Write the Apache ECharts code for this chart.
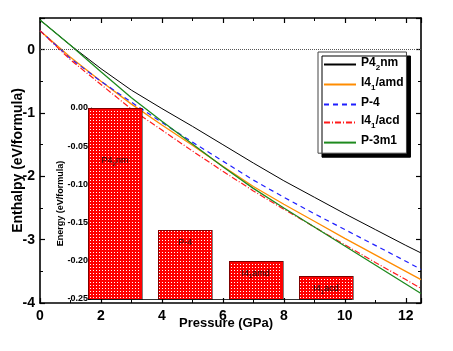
<!DOCTYPE html>
<html><head><meta charset="utf-8">
<script src="https://cdn.jsdelivr.net/npm/echarts@6/dist/echarts.min.js"></script>
<style>html,body{margin:0;padding:0;background:#fff}#c{width:453px;height:351px}</style>
</head><body><div id="c"></div>
<script>
// ---- data ----
const pressure = [0,1,2,3,4,5,6,7,8,9,10,11,12,12.5];
const P42nm  = [0.47,0.07,-0.30,-0.64,-0.93,-1.21,-1.50,-1.79,-2.07,-2.33,-2.59,-2.84,-3.09,-3.21];
const I41amd = [0.30,-0.12,-0.50,-0.86,-1.19,-1.51,-1.84,-2.16,-2.44,-2.71,-2.98,-3.24,-3.50,-3.63];
const P4     = [0.30,-0.14,-0.50,-0.83,-1.15,-1.46,-1.76,-2.06,-2.33,-2.59,-2.84,-3.09,-3.34,-3.47];
const I41acd = [0.30,-0.16,-0.55,-0.94,-1.27,-1.60,-1.92,-2.23,-2.52,-2.80,-3.08,-3.36,-3.63,-3.77];
const P3m1   = [0.47,0.07,-0.35,-0.76,-1.13,-1.49,-1.85,-2.19,-2.50,-2.80,-3.10,-3.40,-3.70,-3.85];
const seriesNames = ['P4_2nm','I4_1/amd','P-4','I4_1/acd','P-3m1'];
const insetCategories = ['P4_2nm','P-4','I4_1amd','I4_1acd'];
const insetEnergy = [0.00,-0.16,-0.20,-0.22];

// ---- helpers ----
const FONT = '"Liberation Sans", Arial, sans-serif';
function richName(n){ return '{a|' + n.replace(/_(\d)/, '}{s|$1}{a|') + '}'; }

const colors = ['#000000','#ff8c00','#1f1fff','#ff1a1a','#1e8a1e'];
const types = ['solid','solid',[5,4],[6,2,1,2],'solid'];
const widths = [1,1.3,1.2,1.2,1.3];
const allY = [P42nm, I41amd, P4, I41acd, P3m1];

const lineSeries = seriesNames.map((n,k)=>({
  name: n, type: 'line', xAxisIndex: 0, yAxisIndex: 0, symbol: 'none', showSymbol: false, z: 3,
  silent: true,
  data: pressure.map((p,i)=>[p, allY[k][i]]),
  lineStyle: {color: colors[k], width: widths[k], type: types[k]},
  itemStyle: {color: colors[k]},
  markLine: k === 0 ? {silent: true, symbol: 'none', label: {show:false},
    lineStyle: {type: 'dotted', color: '#555', width: 1}, data: [{yAxis: 0}]} : undefined
}));

const chart = echarts.init(document.getElementById('c'));
const axisLbl = {fontFamily: FONT, fontWeight: 'bold', fontSize: 14, color: '#000'};
chart.setOption({
  animation: false,
  backgroundColor: '#fff',
  tooltip: {show: false},
  grid: [
    {left: 40, top: 18, right: 32, bottom: 48, containLabel: false, outerBoundsMode: 'none'},
    {left: 91, top: 108, right: 101, bottom: 52, containLabel: false, outerBoundsMode: 'none'}
  ],
  xAxis: [
    {type: 'value', gridIndex: 0, min: 0, max: 12.5, interval: 2, position: 'bottom',
     name: 'Pressure (GPa)', nameLocation: 'middle', nameGap: 14, nameMoveOverlap: false,
     nameTextStyle: {fontFamily: FONT, fontWeight: 'bold', fontSize: 13, color: '#000', padding: [0, 9, 0, 0]},
     axisLine: {onZero: false, lineStyle: {color: '#000', width: 1.6}},
     axisTick: {inside: true, length: 5, lineStyle: {color: '#000', width: 1.2}},
     minorTick: {show: true, splitNumber: 2, length: 3, lineStyle: {color: '#000'}},
     axisLabel: Object.assign({margin: 6, showMaxLabel: false}, axisLbl),
     splitLine: {show: false}},
    {type: 'value', gridIndex: 0, min: 0, max: 12.5, interval: 2, position: 'top',
     axisLine: {onZero: false, lineStyle: {color: '#000', width: 1.6}},
     axisTick: {inside: true, length: 5, lineStyle: {color: '#000', width: 1.2}},
     minorTick: {show: true, splitNumber: 2, length: 3, lineStyle: {color: '#000'}},
     axisLabel: {show: false}, splitLine: {show: false}},
    {type: 'value', gridIndex: 1, min: -0.341, max: 3.37, show: true,
     axisLine: {onZero: false, lineStyle: {color: '#333', width: 1}},
     axisTick: {show: false}, axisLabel: {show: false}, splitLine: {show: false}}
  ],
  yAxis: [
    {type: 'value', gridIndex: 0, min: -4, max: 0.5, interval: 1, position: 'left',
     name: 'Enthalpy (eV/formula)', nameLocation: 'middle', nameGap: 15, nameMoveOverlap: false,
     nameTextStyle: {fontFamily: FONT, fontWeight: 'bold', fontSize: 14, color: '#000'},
     axisLine: {onZero: false, lineStyle: {color: '#000', width: 1.6}},
     axisTick: {inside: true, length: 5, lineStyle: {color: '#000', width: 1.2}},
     minorTick: {show: true, splitNumber: 2, length: 3, lineStyle: {color: '#000'}},
     axisLabel: Object.assign({margin: 5, showMaxLabel: false}, axisLbl),
     splitLine: {show: false}},
    {type: 'value', gridIndex: 0, min: -4, max: 0.5, interval: 1, position: 'right',
     axisLine: {onZero: false, lineStyle: {color: '#000', width: 1.6}},
     axisTick: {inside: true, length: 5, lineStyle: {color: '#000', width: 1.2}},
     minorTick: {show: true, splitNumber: 2, length: 3, lineStyle: {color: '#000'}},
     axisLabel: {show: false}, splitLine: {show: false}},
    {type: 'value', gridIndex: 1, min: -0.25, max: 0, interval: 0.05, position: 'left',
     name: 'Energy (eV/formula)', nameLocation: 'middle', nameGap: 26, nameMoveOverlap: false,
     nameTextStyle: {fontFamily: FONT, fontWeight: 'bold', fontSize: 9, color: '#000'},
     axisLine: {onZero: false, lineStyle: {color: '#000', width: 1.2}},
     axisTick: {length: 3, lineStyle: {color: '#000'}},
     minorTick: {show: true, splitNumber: 2, length: 2, lineStyle: {color: '#000'}},
     axisLabel: {margin: 3, fontFamily: FONT, fontWeight: 'bold', fontSize: 9, color: '#000',
       formatter: v => v.toFixed(2)},
     splitLine: {show: false}}
  ],
  legend: {
    orient: 'vertical', left: 318, top: 52, data: seriesNames, selectedMode: false,
    backgroundColor: '#fff', borderColor: '#444', borderWidth: 1,
    shadowColor: '#000', shadowBlur: 0, shadowOffsetX: 4, shadowOffsetY: 4,
    padding: [5, 3, 5, 5], itemGap: 5, itemWidth: 32, itemHeight: 14,
    itemStyle: {opacity: 0},
    formatter: richName,
    textStyle: {color: '#000', rich: {
      a: {fontFamily: FONT, fontWeight: 'bold', fontSize: 12, color: '#000', verticalAlign: 'top', lineHeight: 15},
      s: {fontFamily: FONT, fontWeight: 'bold', fontSize: 8, color: '#000', verticalAlign: 'top', padding: [7,0,0,0], lineHeight: 10}
    }}
  },
  series: lineSeries.concat([{
    type: 'custom', xAxisIndex: 2, yAxisIndex: 2, z: 10, silent: true,
    colorBy: 'series', itemStyle: {color: '#ff0000'},
    emphasis: {disabled: true},
    data: insetEnergy.map((v,i)=>[i, v]),
    encode: {x: 0, y: 1},
    renderItem: function(params, api){
      const i = api.value(0), v = api.value(1);
      const top = api.coord([i, v]);
      const bot = api.coord([i, -0.25]);
      const w = api.size([0.77, 0])[0];
      const lab = api.coord([i, Math.min(v - 0.017, -0.07)]);
      const x0 = Math.round(top[0]-w/2), y0 = Math.round(top[1]);
      const W = Math.round(w), H = Math.round(bot[1]-top[1]);
      const kids = [{type: 'rect', shape: {x: x0, y: y0, width: W, height: H},
        style: {fill: '#ff0000', stroke: 'transparent'}}];
      // sparse white dot texture, aligned to an absolute 3px lattice
      const startY = Math.ceil((y0 + 1) / 3) * 3;
      const startX = Math.ceil((x0 + 1) / 3) * 3;
      for (let yy = startY; yy < y0 + H - 1; yy += 3) {
        kids.push({type: 'line', shape: {x1: startX, y1: yy + 0.5, x2: x0 + W - 1, y2: yy + 0.5},
          style: {stroke: '#ffffff', fill: 'transparent', lineWidth: 1, lineDash: [1, 2]}});
      }
      kids.push({type: 'rect', shape: {x: x0 + 0.5, y: y0 + 0.5, width: W, height: H},
        style: {fill: 'transparent', stroke: '#000', lineWidth: 1, lineDash: [1,1]}});
      kids.push({type: 'text', x: lab[0], y: lab[1], style: {text: richName(insetCategories[params.dataIndex]),
          align: 'center', verticalAlign: 'middle',
          rich: {a: {fontFamily: FONT, fontSize: 9, fill: '#111', verticalAlign: 'top', lineHeight: 10},
                 s: {fontFamily: FONT, fontSize: 6, fill: '#111', verticalAlign: 'top', padding: [5,0,0,0], lineHeight: 6}}}});
      return {type: 'group', children: kids};
    }
  }])
});
</script></body></html>
